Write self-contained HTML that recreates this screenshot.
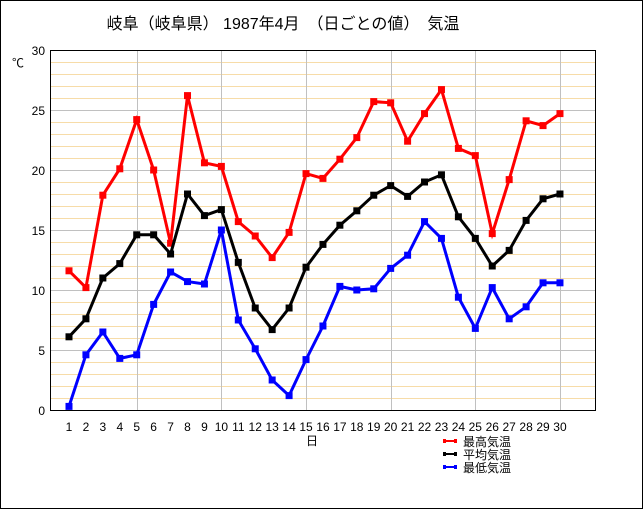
<!DOCTYPE html><html><head><meta charset="utf-8"><style>
body{margin:0;background:#fff}
svg{display:block;font-family:"Liberation Sans","Noto Sans CJK JP",sans-serif}
</style></head><body>
<svg id="s" width="644" height="510" xmlns="http://www.w3.org/2000/svg">
<rect x="0.5" y="0.5" width="642" height="508" fill="#fff" stroke="#000"/>
<text x="283" y="29" font-size="16" text-anchor="middle">岐阜（岐阜県） 1987年4月　（日ごとの値）　気温</text>
<text x="12" y="67" font-size="12">℃</text>
<g id="g"></g>
<rect x="50.5" y="50.5" width="545" height="360" fill="none" stroke="#000"/>
<text x="312" y="445" font-size="12" text-anchor="middle">日</text>
<g font-size="12">
<line x1="444" y1="441" x2="456" y2="441" stroke="#f00" stroke-width="2"/><rect x="443" y="439" width="3" height="4" fill="#f00"/><rect x="454" y="439" width="3" height="4" fill="#f00"/><text x="463" y="446">最高気温</text>
<line x1="444" y1="454" x2="456" y2="454" stroke="#000" stroke-width="2"/><rect x="443" y="452" width="3" height="4"/><rect x="454" y="452" width="3" height="4"/><text x="463" y="459">平均気温</text>
<line x1="444" y1="467" x2="456" y2="467" stroke="#00f" stroke-width="2"/><rect x="443" y="465" width="3" height="4" fill="#00f"/><rect x="454" y="465" width="3" height="4" fill="#00f"/><text x="463" y="472">最低気温</text>
</g>
</svg>
<script>
const g=document.getElementById('g');let h='';
const X=d=>69+(d-1)*16.93, Y=v=>410-v*12;
for(let v=1;v<30;v++){if(v%5)h+=`<line x1="51" x2="595" y1="${Y(v)+.5}" y2="${Y(v)+.5}" stroke="#f7dca8"/>`;}
for(let v=5;v<30;v+=5)h+=`<line x1="51" x2="595" y1="${Y(v)+.5}" y2="${Y(v)+.5}" stroke="#c0c0c0"/>`;
for(let d=5;d<=30;d+=5)h+=`<line y1="51" y2="410" x1="${Math.round(X(d))+.5}" x2="${Math.round(X(d))+.5}" stroke="#c0c0c0"/>`;
for(let v=0;v<=30;v+=5)h+=`<text x="45" y="${Y(v)+5}" font-size="12" text-anchor="end">${v}</text>`;
for(let d=1;d<=30;d++)h+=`<text x="${X(d)}" y="431" font-size="12" text-anchor="middle">${d}</text>`;
const S=[["#f00",[11.6,10.2,17.9,20.1,24.2,20.0,13.9,26.2,20.6,20.3,15.7,14.5,12.7,14.8,19.7,19.3,20.9,22.7,25.7,25.6,22.4,24.7,26.7,21.8,21.2,14.7,19.2,24.1,23.7,24.7]],
["#000",[6.1,7.6,11.0,12.2,14.6,14.6,13.0,18.0,16.2,16.7,12.3,8.5,6.7,8.5,11.9,13.8,15.4,16.6,17.9,18.7,17.8,19.0,19.6,16.1,14.3,12.0,13.3,15.8,17.6,18.0]],
["#00f",[0.3,4.6,6.5,4.3,4.6,8.8,11.5,10.7,10.5,15.0,7.5,5.1,2.5,1.2,4.2,7.0,10.3,10.0,10.1,11.8,12.9,15.7,14.3,9.4,6.8,10.2,7.6,8.6,10.6,10.6]]];
for(const [c,a] of S){h+=`<polyline fill="none" stroke="${c}" stroke-width="3" points="${a.map((v,i)=>X(i+1)+','+Y(v)).join(' ')}"/>`;
a.forEach((v,i)=>h+=`<rect x="${X(i+1)-3.5}" y="${Y(v)-3.5}" width="7" height="7" fill="${c}"/>`);}
g.innerHTML=h;
</script>
</body></html>
